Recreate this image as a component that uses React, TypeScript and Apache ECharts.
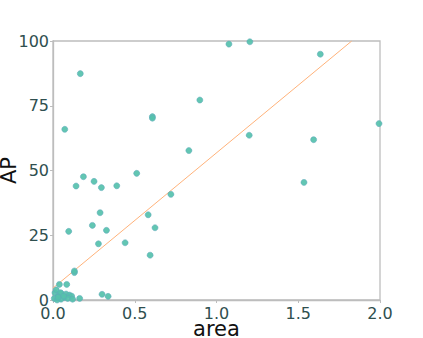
import React, { useEffect, useRef } from "react";
import * as echarts from "echarts";

const areaValues: number[] = [
  0.167, 0.072, 0.186, 0.141, 0.251, 0.296, 0.390, 0.512, 0.288, 0.241,
  0.327, 0.096, 0.278, 0.441, 0.131, 0.131, 0.039, 0.084, 0.300, 0.337,
  0.163, 1.076, 1.204, 0.898, 0.608, 0.608, 1.200, 0.831, 0.721, 0.582,
  0.624, 0.594, 1.635, 1.994, 1.594, 1.535, 0.012, 0.049, 0.080, 0.100,
  0.114, 0.029, 0.070, 0.090, 0.008, 0.049, 0.120, 0.025, 0.020, 0.047,
  0.065, 0.031,
];
const apValues: number[] = [
  87.4, 65.9, 47.6, 44.0, 45.8, 43.4, 44.1, 48.9, 33.7, 28.8,
  26.9, 26.5, 21.7, 22.1, 10.6, 11.2, 6.0, 6.0, 2.2, 1.4,
  0.6, 98.8, 99.7, 77.2, 70.8, 70.2, 63.6, 57.7, 40.8, 32.9,
  27.9, 17.3, 94.9, 68.1, 61.9, 45.4, 2.8, 2.6, 2.3, 1.9,
  1.5, 1.3, 1.0, 0.6, 0.6, 0.3, 0.3, 0.0, 3.9, 2.8,
  1.5, 1.0,
];
const fitArea: number[] = [0, 1.827];
const fitAP: number[] = [4.6, 100];
const xTicks: number[] = [0, 0.5, 1.0, 1.5, 2.0];
const yTicks: number[] = [0, 25, 50, 75, 100];

export default function App() {
  const ref = useRef<HTMLDivElement>(null);
  useEffect(() => {
    if (!ref.current) return;
    const chart = echarts.init(ref.current, null, { renderer: "svg" });
    const font = "DejaVu Sans";
    const axisCommon = {
      axisLine: { show: true, lineStyle: { color: "#bdbdbd", width: 1.3 } },
      axisTick: { show: true, inside: false, length: 3, lineStyle: { color: "#bdbdbd" } },
      splitLine: { show: false },
      nameMoveOverlap: false,
      nameTextStyle: { fontFamily: font, fontSize: 21, lineHeight: 18, color: "#111" },
    };
    chart.setOption({
      animation: false,
      backgroundColor: "#ffffff",
      grid: {
        left: 53, right: 43, top: 41, bottom: 38,
        outerBoundsMode: "none",
        containLabel: false,
        show: true, borderColor: "#bdbdbd", borderWidth: 1.3,
      },
      xAxis: {
        type: "value",
        min: 0,
        max: 2,
        interval: 0.5,
        name: "area",
        nameLocation: "middle",
        nameGap: 19.5,
        ...axisCommon,
        axisLabel: {
          fontFamily: font,
          fontSize: 16,
          color: "#2f4f4f",
          margin: 5,
          formatter: (v: number) => (xTicks.includes(v) ? v.toFixed(1) : ""),
        },
      },
      yAxis: {
        type: "value",
        min: 0,
        max: 100,
        interval: 25,
        name: "AP",
        nameLocation: "middle",
        nameGap: 35,
        ...axisCommon,
        axisLabel: {
          fontFamily: font,
          fontSize: 16,
          color: "#2f4f4f",
          margin: 4,
          formatter: (v: number) => (yTicks.includes(v) ? String(v) : ""),
        },
      },
      series: [
        {
          type: "line",
          data: fitArea.map((x, i) => [x, fitAP[i]]),
          showSymbol: false,
          lineStyle: { color: "#ffb27a", width: 1 },
          z: 1,
        },
        {
          type: "scatter",
          data: areaValues.map((x, i) => [x, apValues[i]]),
          symbolSize: 6,
          clip: false,
          itemStyle: { color: "#55c1ab", opacity: 0.92, borderColor: "#5fa9bc", borderWidth: 0.6 },
          z: 2,
        },
      ],
    });
    return () => chart.dispose();
  }, []);
  return <div ref={ref} style={{ position: "absolute", left: 0, top: 0, width: 423, height: 338 }} />;
}
